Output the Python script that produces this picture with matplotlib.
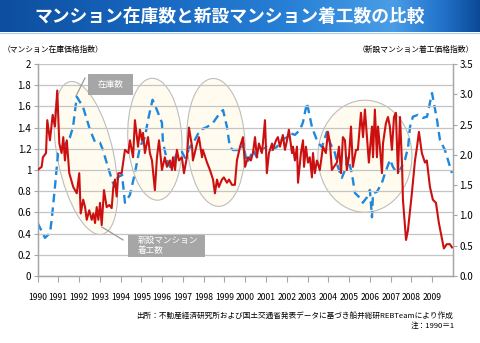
import numpy as np
import matplotlib
matplotlib.use('Agg')
import matplotlib.pyplot as plt
from matplotlib.patches import Ellipse, Rectangle
from matplotlib.transforms import IdentityTransform
from matplotlib.colors import LinearSegmentedColormap

plt.rcParams['font.family'] = ['Noto Sans CJK JP', 'DejaVu Sans']

# ---- texts ----
TITLE = 'マンション在庫数と新設マンション着工数の比較'
LEFT_LABEL = '（マンション在庫価格指数）'
RIGHT_LABEL = '（新設マンション着工価格指数）'
SOURCE = '出所：不動産経済研究所および国土交通省発表データに基づき船井総研REBTeamにより作成'
NOTE = '注：1990＝1'
CALLOUT_STOCK = '在庫数'
CALLOUT_STARTS = '新設マンション\n着工数'

# ---- axes ----
years = list(range(1990, 2010))
left_ticks = [0, 0.2, 0.4, 0.6, 0.8, 1.0, 1.2, 1.4, 1.6, 1.8, 2.0]
left_ticklabels = ['0', '0.2', '0.4', '0.6', '0.8', '1', '1.2', '1.4', '1.6', '1.8', '2']
right_ticks = [0, 0.5, 1.0, 1.5, 2.0, 2.5, 3.0, 3.5]
right_ticklabels = ['0.0', '0.5', '1.0', '1.5', '2.0', '2.5', '3.0', '3.5']

# ---- red solid series (left axis) ----
red_t = [1990.00, 1990.20, 1990.26, 1990.41, 1990.47, 1990.60, 1990.73, 1990.84, 1990.95, 1991.05,
         1991.16, 1991.24, 1991.32, 1991.41, 1991.53, 1991.72, 1991.89, 1992.01, 1992.08, 1992.20,
         1992.29, 1992.37, 1992.49, 1992.61, 1992.69, 1992.77, 1992.85, 1992.93, 1993.01, 1993.09,
         1993.20, 1993.33, 1993.46, 1993.57, 1993.65, 1993.73, 1993.81, 1993.89, 1994.05, 1994.21,
         1994.37, 1994.45, 1994.60, 1994.69, 1994.84, 1994.93, 1995.03, 1995.08, 1995.17, 1995.32,
         1995.41, 1995.51, 1995.65, 1995.75, 1995.85, 1995.99, 1996.13, 1996.23, 1996.38, 1996.47,
         1996.52, 1996.62, 1996.71, 1996.81, 1996.95, 1997.05, 1997.19, 1997.29, 1997.44, 1997.48,
         1997.68, 1997.77, 1997.92, 1997.96, 1998.16, 1998.30, 1998.45, 1998.54, 1998.64, 1998.73,
         1998.88, 1998.97, 1999.12, 1999.22, 1999.36, 1999.50, 1999.60, 1999.75, 1999.89, 1999.99,
         2000.13, 2000.27, 2000.37, 2000.47, 2000.56, 2000.66, 2000.80, 2000.85, 2000.95, 2001.04,
         2001.14, 2001.29, 2001.33, 2001.48, 2001.57, 2001.67, 2001.81, 2001.91, 2002.01, 2002.10,
         2002.25, 2002.30, 2002.39, 2002.49, 2002.54, 2002.68, 2002.78, 2002.83, 2002.92, 2003.02,
         2003.11, 2003.21, 2003.26, 2003.35, 2003.45, 2003.59, 2003.74, 2003.88, 2003.98, 2004.08,
         2004.17, 2004.27, 2004.41, 2004.51, 2004.61, 2004.70, 2004.80, 2004.89, 2004.99, 2005.09,
         2005.18, 2005.33, 2005.42, 2005.57, 2005.67, 2005.76, 2005.86, 2005.95, 2006.10, 2006.15,
         2006.24, 2006.34, 2006.39, 2006.48, 2006.58, 2006.63, 2006.77, 2006.87, 2006.96, 2007.06,
         2007.16, 2007.25, 2007.35, 2007.45, 2007.55, 2007.59, 2007.74, 2007.83, 2008.02, 2008.17,
         2008.27, 2008.36, 2008.50, 2008.65, 2008.74, 2008.89, 2009.03, 2009.18, 2009.32, 2009.46,
         2009.56, 2009.70, 2009.85, 2009.95]
red_v = [1.00, 1.03, 1.12, 1.16, 1.47, 1.28, 1.52, 1.41, 1.75, 1.25,
         1.16, 1.31, 1.09, 1.28, 0.97, 0.84, 0.78, 0.97, 0.59, 0.72,
         0.65, 0.53, 0.62, 0.53, 0.59, 0.50, 0.65, 0.53, 0.69, 0.48,
         0.81, 0.65, 0.67, 0.64, 0.84, 0.91, 0.75, 0.97, 0.97, 1.19,
         1.16, 1.28, 1.12, 1.47, 1.22, 1.38, 1.28, 1.35, 1.16, 1.31,
         1.16, 1.09, 0.81, 1.12, 1.28, 1.00, 1.12, 1.03, 1.09, 1.00,
         1.12, 1.00, 1.19, 1.09, 1.12, 0.97, 1.12, 1.40, 1.22, 1.09,
         1.25, 1.31, 1.12, 1.19, 1.07, 1.00, 0.91, 0.78, 0.91, 0.84,
         0.91, 0.93, 0.88, 0.91, 0.86, 0.86, 1.09, 1.22, 1.31, 1.03,
         1.12, 1.09, 1.16, 1.31, 1.12, 1.25, 1.16, 1.25, 1.47, 0.97,
         1.16, 1.25, 1.19, 1.28, 1.31, 1.22, 1.33, 1.19, 1.28, 1.38,
         1.16, 1.22, 1.09, 1.22, 0.88, 1.16, 1.28, 1.03, 1.22, 1.07,
         1.12, 0.93, 1.16, 0.97, 1.09, 1.00, 1.22, 1.16, 1.36, 1.25,
         1.00, 1.03, 1.07, 1.22, 0.97, 1.31, 1.28, 1.00, 1.12, 1.41,
         1.03, 1.19, 1.19, 1.54, 1.31, 1.57, 1.31, 1.07, 1.41, 1.12,
         1.57, 1.12, 1.41, 1.22, 0.97, 1.25, 1.44, 1.50, 1.41, 1.19,
         1.50, 1.54, 0.97, 1.50, 1.03, 0.72, 0.34, 0.43, 0.78, 1.09,
         1.22, 1.36, 1.16, 1.07, 1.09, 0.84, 0.72, 0.69, 0.50, 0.36,
         0.26, 0.30, 0.30, 0.27]

# ---- blue dashed series (right axis) ----
blue_t = [1990.00, 1990.36, 1990.60, 1990.68, 1990.84, 1990.99, 1991.23, 1991.56, 1991.71, 1991.89,
          1992.19, 1992.53, 1992.77, 1993.01, 1993.15, 1993.39, 1993.63, 1993.73, 1993.87, 1994.07,
          1994.21, 1994.45, 1994.69, 1994.93, 1995.17, 1995.32, 1995.54, 1995.75, 1995.99, 1996.04,
          1996.23, 1996.38, 1996.52, 1996.71, 1996.95, 1997.10, 1997.34, 1997.58, 1997.82, 1998.16,
          1998.45, 1998.78, 1998.93, 1999.12, 1999.26, 1999.41, 1999.65, 1999.84, 1999.89, 2000.08,
          2000.23, 2000.37, 2000.56, 2000.80, 2001.04, 2001.29, 2001.52, 2001.76, 2002.01, 2002.15,
          2002.39, 2002.63, 2002.78, 2002.97, 2003.21, 2003.35, 2003.50, 2003.69, 2003.93, 2004.08,
          2004.32, 2004.46, 2004.65, 2004.80, 2004.94, 2005.13, 2005.28, 2005.52, 2005.66, 2005.86,
          2006.00, 2006.10, 2006.15, 2006.34, 2006.58, 2006.73, 2006.97, 2007.11, 2007.30, 2007.45,
          2007.69, 2007.84, 2007.93, 2008.07, 2008.31, 2008.55, 2008.75, 2008.89, 2008.99, 2009.23,
          2009.37, 2009.61, 2009.95]
blue_v = [0.88, 0.63, 0.71, 0.92, 1.47, 2.03, 2.13, 2.29, 2.46, 2.96,
          2.79, 2.41, 2.21, 2.20, 2.08, 1.80, 1.54, 1.47, 1.63, 1.67,
          1.21, 1.34, 1.70, 2.13, 2.29, 2.58, 2.91, 2.74, 2.53, 2.20,
          1.92, 1.80, 1.87, 2.03, 2.05, 1.95, 2.13, 2.25, 2.41, 2.46,
          2.53, 2.69, 2.74, 2.46, 2.13, 2.08, 2.08, 2.08, 2.20, 1.87,
          1.96, 2.08, 1.96, 2.08, 2.13, 2.08, 2.13, 2.25, 2.29, 2.36,
          2.33, 2.41, 2.54, 2.86, 2.46, 2.33, 2.20, 2.13, 2.38, 2.20,
          2.03, 1.80, 1.62, 1.75, 1.95, 1.70, 1.37, 1.29, 1.21, 1.30,
          1.42, 0.97, 1.37, 1.39, 1.54, 1.70, 1.92, 1.80, 1.70, 1.75,
          1.92, 2.13, 2.46, 2.63, 2.66, 2.61, 2.63, 2.86, 3.02, 2.58,
          2.25, 2.08, 1.70]

# highlight ellipses: centre (year, left value), size in pixels, tilt
ell_t = [1992.33, 1995.65, 1998.59, 2005.76]
ell_v = [1.113, 1.29, 1.26, 1.13]
ell_w = [56, 54, 58, 94]
ell_h = [156, 122, 128, 112]
ell_ang = [12, 3, 3, 0]

RED = '#CC1010'
BLUE = '#1E88DC'
GRID = '#C4C4C4'
AXC = '#A6A6A6'

W, H = 480, 343
fig = plt.figure(figsize=(W / 100, H / 100), dpi=100)

# ---- title bar ----
tax = fig.add_axes([0, 1 - 32 / H, 1, 32 / H])
cmap = LinearSegmentedColormap.from_list(
    'bar', [(0, '#0D4E9E'), (0.3, '#1766BE'), (0.6, '#2780D6'),
            (0.82, '#4A9DE6'), (0.92, '#2274CC'), (1, '#0C4A98')])
tax.imshow(np.linspace(0, 1, 256).reshape(1, -1), cmap=cmap, aspect='auto',
           extent=[0, 1, 0, 1])
tax.set_xlim(0, 1)
tax.set_ylim(0, 1)
tax.axis('off')
tax.text(0.479, 0.47, TITLE, color='white', fontsize=12.8, fontweight='bold',
         ha='center', va='center')
fig.add_artist(plt.Line2D([0, 1], [1 - 32.5 / H] * 2, color='#A9CBEB', lw=0.8))

# ---- main axes ----
ax = fig.add_axes([37.5 / W, 67 / H, 415.5 / W, 212 / H])
ax2 = ax.twinx()
ax.set_zorder(2)
ax2.set_zorder(1)
ax.patch.set_visible(False)

ax.set_xlim(1990, 2010)
ax.set_ylim(0, 2)
ax2.set_ylim(0, 3.5)

ax.set_xticks(years)
ax.set_xticklabels([str(y) for y in years])
ax.set_yticks(left_ticks)
ax.set_yticklabels(left_ticklabels)
ax2.set_yticks(right_ticks)
ax2.set_yticklabels(right_ticklabels)

ax.yaxis.grid(True, color=GRID, lw=0.9)
ax.set_axisbelow(True)

for a in (ax, ax2):
    a.spines['top'].set_visible(False)
    for s in ('left', 'right', 'bottom'):
        a.spines[s].set_color(AXC)
        a.spines[s].set_linewidth(0.9)

ax.tick_params(axis='x', length=4, color=AXC, labelsize=6.2, pad=8)
ax.tick_params(axis='y', length=3, color=AXC, labelsize=7, pad=1.5)
ax2.tick_params(axis='y', length=3, color=AXC, labelsize=7, pad=1.5)

# ellipses
fig.canvas.draw()
for t, v, w, h, a in zip(ell_t, ell_v, ell_w, ell_h, ell_ang):
    cx, cy = ax.transData.transform((t, v))
    e = Ellipse((cx, cy), w, h, angle=a, transform=IdentityTransform(),
                facecolor='#FFFCEF', edgecolor='#BDBDBD', lw=0.8,
                zorder=0.5)
    ax2.add_artist(e)

ax2.plot(blue_t, blue_v, color=BLUE, lw=1.7, linestyle=(0, (3.6, 2.2)),
         zorder=2)
ax.plot(red_t, red_v, color=RED, lw=1.5, zorder=3)

# callouts
ax.add_patch(Rectangle((0.1215, 0.854), 0.108, 0.099, transform=ax.transAxes,
                       facecolor='#A6A6A6', edgecolor='none', zorder=5,
                       clip_on=False))
ax.text(0.1755, 0.903, CALLOUT_STOCK, transform=ax.transAxes, color='white',
        fontsize=6.2, ha='center', va='center', zorder=6)
ax.plot([0.1143, 0.0927], [0.934, 0.849], transform=ax.transAxes,
        color='#9A9A9A', lw=0.9, zorder=5, clip_on=False)

ax.add_patch(Rectangle((0.218, 0.0896), 0.185, 0.1034, transform=ax.transAxes,
                       facecolor='#A6A6A6', edgecolor='none', zorder=5,
                       clip_on=False))
ax.text(0.242, 0.142, CALLOUT_STARTS, transform=ax.transAxes, color='white',
        fontsize=6.2, ha='left', va='center', linespacing=1.15, zorder=6)
ax.plot([0.155, 0.206], [0.231, 0.170], transform=ax.transAxes,
        color='#9A9A9A', lw=0.9, zorder=5, clip_on=False)

# axis titles
fig.text(3 / W, 1 - 50 / H, LEFT_LABEL, fontsize=5.6, ha='left', va='center')
fig.text(474 / W, 1 - 50 / H, RIGHT_LABEL, fontsize=5.6, ha='right', va='center')

# source and note
fig.text(453 / W, 1 - 316 / H, SOURCE, fontsize=5.5, ha='right', va='center')
fig.text(455 / W, 1 - 326 / H, NOTE, fontsize=5.5, ha='right', va='center')

fig.savefig('out.png', dpi=100)
